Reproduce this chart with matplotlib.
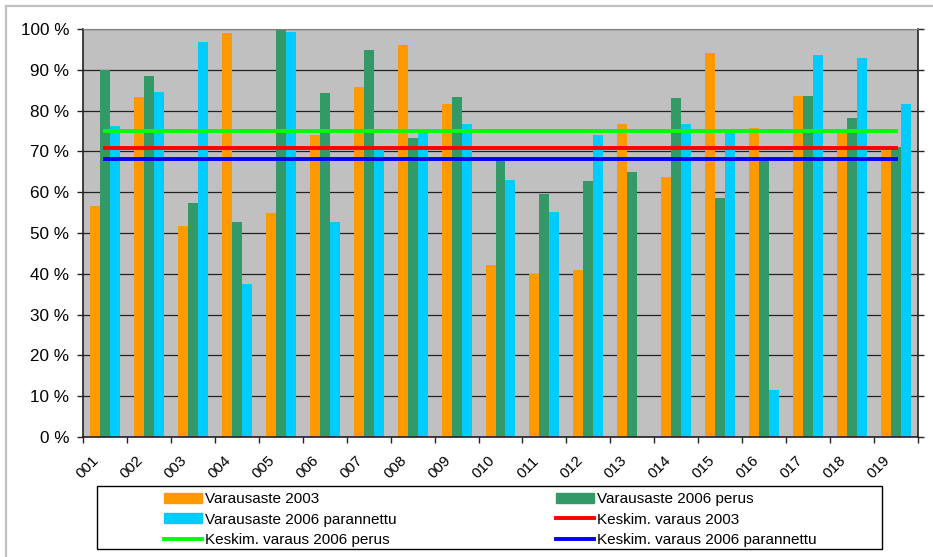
import numpy as np
import matplotlib.pyplot as plt
import matplotlib.transforms as mtransforms
from matplotlib.patches import Patch, Rectangle
from matplotlib.lines import Line2D

plt.rcParams['font.family'] = ['Liberation Sans', 'DejaVu Sans']

# Occupancy per site (%)
sites = ["001", "002", "003", "004", "005", "006", "007", "008", "009", "010",
         "011", "012", "013", "014", "015", "016", "017", "018", "019"]
rate_2003 = [56.7, 83.4, 51.8, 98.9, 55.0, 73.9, 85.9, 96.2, 81.7, 42.2,
             40.0, 41.0, 76.6, 63.8, 94.2, 75.8, 83.7, 74.8, 70.8]
rate_2006_base = [90.0, 88.6, 57.4, 52.8, 99.8, 84.4, 94.9, 73.4, 83.4, 68.1,
                  59.6, 62.8, 65.0, 83.2, 58.7, 68.1, 83.7, 78.3, 71.2]
rate_2006_impr = [76.3, 84.6, 96.9, 37.6, 99.3, 52.8, 71.4, 74.5, 76.8, 63.1,
                  55.2, 74.1, np.nan, 76.8, 74.7, 11.4, 93.7, 93.0, 81.7]

# averages
avg_2003 = 70.8
avg_2006_base = 74.9
avg_2006_impr = 68.1

c_2003 = '#FF9900'
c_base = '#339966'
c_impr = '#00CCFF'

W, H = 933, 557
fig = plt.figure(figsize=(W / 100, H / 100), dpi=100)
fig.patch.set_facecolor('white')

# light frame of the chart area (top and left edges)
fig.add_artist(Line2D([6 / W, 6 / W], [0, 1 - 6 / H], transform=fig.transFigure,
                      color='#C0C0C0', lw=1.6))
fig.add_artist(Line2D([6 / W, 1], [1 - 6 / H, 1 - 6 / H], transform=fig.transFigure,
                      color='#C0C0C0', lw=1.6))

ax = fig.add_axes([83 / W, 1 - 437 / H, (918 - 83) / W, (437 - 29) / H])
ax.set_facecolor('#C0C0C0')

x = np.arange(len(sites))
w = 0.2275
ax.bar(x - w, rate_2003, w, color=c_2003, zorder=2)
ax.bar(x, rate_2006_base, w, color=c_base, zorder=2)
ax.bar(x + w, rate_2006_impr, w, color=c_impr, zorder=2)

ax.plot(x, [avg_2003] * len(x), color='#FF0000', lw=2.8, zorder=3)
ax.plot(x, [avg_2006_base] * len(x), color='#00FF00', lw=2.8, zorder=3)
ax.plot(x, [avg_2006_impr] * len(x), color='#0000FF', lw=2.8, zorder=3)

ax.set_xlim(-0.5, len(sites) - 0.5)
ax.set_ylim(0, 100)
ax.set_yticks(np.arange(0, 101, 10))
ax.set_yticklabels([f"{v} %" for v in range(0, 101, 10)], fontsize=12.3)
ax.yaxis.grid(True, color='#222222', lw=0.9, zorder=1)
ax.set_axisbelow(True)

ax.yaxis.set_ticks_position('both')
ax.tick_params(axis='y', direction='out', length=4, width=1, color='#222222',
               pad=6, labelright=False)

# category labels at centres, tick marks at category boundaries
ax.set_xticks(x)
ax.set_xticklabels(sites, fontsize=11, rotation=45, ha='right', va='top',
                   rotation_mode='anchor')
ax.set_xticks(np.arange(-0.5, len(sites), 1), minor=True)
ax.tick_params(axis='x', which='major', length=0, pad=12)
ax.tick_params(axis='x', which='minor', direction='out', length=4, width=1,
               color='#222222')
shift = mtransforms.ScaledTranslation(-13 / 100, 0, fig.dpi_scale_trans)
for lbl in ax.get_xticklabels():
    lbl.set_transform(lbl.get_transform() + shift)

for side in ['left', 'bottom', 'right']:
    ax.spines[side].set_color('#222222')
    ax.spines[side].set_linewidth(1.2)
ax.spines['top'].set_color('#808080')

# legend, row-major ordering in two columns
handles = [
    Patch(color=c_2003), Patch(color=c_impr),
    Line2D([], [], color='#00FF00', lw=2.8),
    Patch(color=c_base),
    Line2D([], [], color='#FF0000', lw=2.8),
    Line2D([], [], color='#0000FF', lw=2.8),
]
labels = ["Varausaste 2003", "Varausaste 2006 parannettu", "Keskim. varaus 2006 perus",
          "Varausaste 2006 perus", "Keskim. varaus 2003", "Keskim. varaus 2006 parannettu"]
fig.legend(handles, labels, ncol=2, frameon=False, fontsize=11,
           loc='upper left', bbox_to_anchor=(164 / W, 1 - 492 / H),
           borderaxespad=0, borderpad=0, handlelength=2.5, handleheight=0.65,
           handletextpad=0.2, columnspacing=10.4, labelspacing=0.43)
fig.add_artist(Rectangle((97 / W, 1 - 549 / H), (882 - 97) / W, (549 - 486) / H,
                         transform=fig.transFigure, fill=False, edgecolor='black',
                         lw=1.0))

fig.savefig('out.png', dpi=100)
